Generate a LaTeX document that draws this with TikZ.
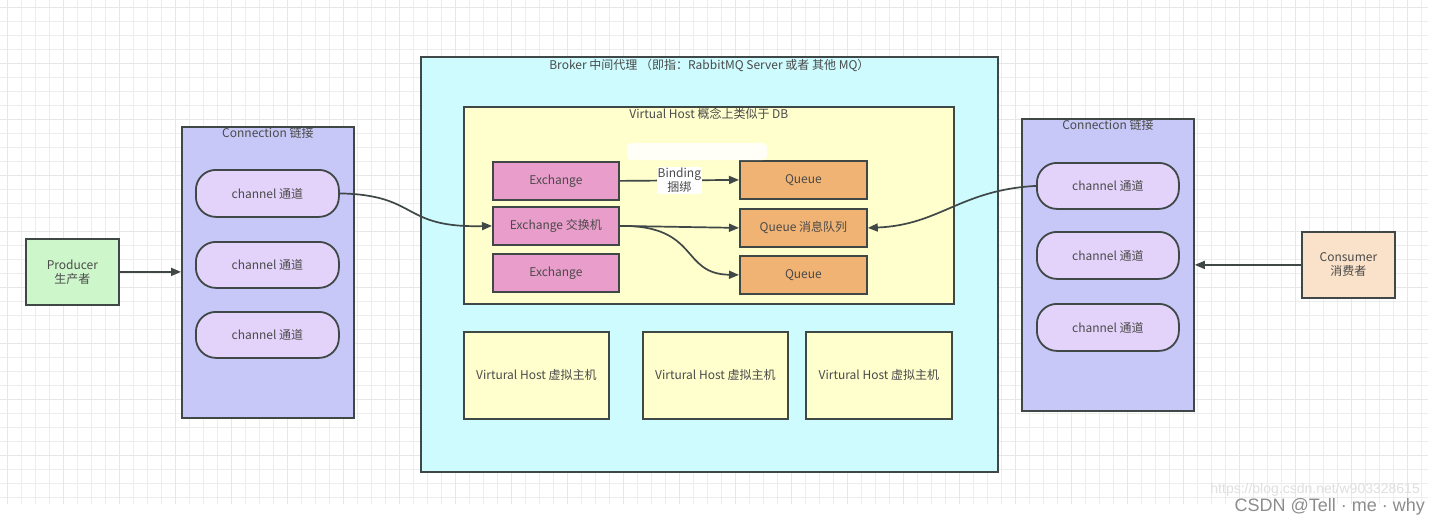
\documentclass[tikz,border=0pt]{standalone}
\usepackage{fontspec}
\setmainfont{Noto Sans CJK SC}
\newfontfamily\wmfont{Liberation Sans}
\usetikzlibrary{arrows.meta}
\definecolor{gridc}{HTML}{EDEDED}
\definecolor{edge}{HTML}{3F4747}
\definecolor{txt}{HTML}{4A4A4A}
\definecolor{prodc}{HTML}{CDF7CB}
\definecolor{connc}{HTML}{C7C8F7}
\definecolor{chanc}{HTML}{E3D3FA}
\definecolor{brokc}{HTML}{CDFBFE}
\definecolor{vhc}{HTML}{FFFECD}
\definecolor{exc}{HTML}{E99DCB}
\definecolor{quc}{HTML}{F0B373}
\definecolor{consc}{HTML}{FAE1C9}
\tikzset{
  box/.style={draw=edge, line width=1.8pt, rectangle, inner sep=0pt, font=\fontsize{12}{14}\selectfont, text=txt, align=center},
  chanbox/.style={box, fill=chanc, rounded corners=20pt},
  title/.style={font=\fontsize{12}{13}\selectfont, text=txt, inner sep=1pt},
  conn/.style={draw=edge, line width=1.7pt, -{Triangle[length=10pt,width=8pt]}},
}
\begin{document}
\begin{tikzpicture}[x=1pt,y=-1pt]
\useasboundingbox (0,0) rectangle (1441,525);
\fill[white] (0,0) rectangle (1441,525);
% grid
\begin{scope}
\clip (0,0) rectangle (1428,504);
\foreach \i in {0,...,102} { \draw[gridc, line width=0.7pt] (7+\i*14,0) -- (7+\i*14,504); }
\foreach \j in {0,...,36} { \draw[gridc, line width=0.7pt] (0,7+\j*14) -- (1441,7+\j*14); }
\foreach \i in {0,...,25} { \draw[gridc!80!gray!60, line width=0.9pt] (7+\i*56,0) -- (7+\i*56,504); }
\foreach \j in {0,...,9} { \draw[gridc!80!gray!60, line width=0.9pt] (0,7+\j*56) -- (1441,7+\j*56); }
\end{scope}

% containers
\node[box, fill=brokc, minimum width=577pt, minimum height=415pt, anchor=north west] (broker) at (420,56) {};
\node[title, anchor=north] (brokert) at (broker.north) [yshift=-2pt] {Broker 中间代理 （即指：RabbitMQ Server 或者 其他 MQ）};
\node[box, fill=vhc, minimum width=490pt, minimum height=197pt, anchor=north west] (vh) at (463,106) {};
\node[title, anchor=north] (vht) at (vh.north) [yshift=-1pt] {Virtual Host 概念上类似于 DB};

\node[box, fill=connc, minimum width=172pt, minimum height=291pt, anchor=north west] (lconn) at (181,126) {};
\node[title, anchor=north] (lconnt) at (lconn.north) [yshift=0pt] {Connection 链接};
\node[box, fill=connc, minimum width=172pt, minimum height=292pt, anchor=north west] (rconn) at (1021,118) {};
\node[title, anchor=north] (rconnt) at (rconn.north) [yshift=0pt] {Connection 链接};

% producer / consumer
\node[box, fill=prodc, minimum width=93pt, minimum height=66pt, anchor=north west] (prod) at (25,238) {Producer\\生产者};
\node[box, fill=consc, minimum width=93pt, minimum height=66pt, anchor=north west] (cons) at (1301,231) {Consumer\\消费者};

% channels
\node[chanbox, minimum width=143pt, minimum height=47pt, anchor=north west] (lc1) at (195,169) {channel 通道};
\node[chanbox, minimum width=143pt, minimum height=46pt, anchor=north west] (lc2) at (195,241) {channel 通道};
\node[chanbox, minimum width=143pt, minimum height=46pt, anchor=north west] (lc3) at (195,311) {channel 通道};
\node[chanbox, minimum width=142pt, minimum height=46pt, anchor=north west] (rc1) at (1036,162) {channel 通道};
\node[chanbox, minimum width=142pt, minimum height=47pt, anchor=north west] (rc2) at (1036,231) {channel 通道};
\node[chanbox, minimum width=142pt, minimum height=47pt, anchor=north west] (rc3) at (1036,303) {channel 通道};

% exchanges
\node[box, fill=exc, minimum width=126pt, minimum height=38pt, anchor=north west] (ex1) at (492,161) {Exchange};
\node[box, fill=exc, minimum width=126pt, minimum height=38pt, anchor=north west] (ex2) at (492,206) {Exchange 交换机};
\node[box, fill=exc, minimum width=126pt, minimum height=38pt, anchor=north west] (ex3) at (492,253) {Exchange};
% queues
\node[box, fill=quc, minimum width=127pt, minimum height=38pt, anchor=north west] (q1) at (739,160) {Queue};
\node[box, fill=quc, minimum width=127pt, minimum height=38pt, anchor=north west] (q2) at (739,208) {Queue 消息队列};
\node[box, fill=quc, minimum width=127pt, minimum height=38pt, anchor=north west] (q3) at (739,255) {Queue};

% blurred patch
\fill[white, opacity=0.85, rounded corners=4pt] (627,143) rectangle (767,160);

% bottom vhosts
\node[box, fill=vhc, minimum width=145pt, minimum height=87pt, anchor=north west] (vh2) at (463,331) {Virtural Host 虚拟主机};
\node[box, fill=vhc, minimum width=145pt, minimum height=87pt, anchor=north west] (vh3) at (642,331) {Virtural Host 虚拟主机};
\node[box, fill=vhc, minimum width=146pt, minimum height=87pt, anchor=north west] (vh4) at (805,331) {Virtural Host 虚拟主机};

% connectors
\draw[conn] (prod.east) -- (lconn.west |- prod.east);
\draw[conn] (cons.west) -- (rconn.east |- cons.west);
\draw[conn] (lc1.east) .. controls (420,195) and (400,228) .. (ex2.west);
\draw[conn] (ex1.east) -- (q1.west) node[midway, fill=white, inner sep=1pt, align=center, font=\fontsize{12}{13}\selectfont, text=txt] (bind) {Binding\\捆绑};
\draw[conn] (ex2.east) -- (q2.west);
\draw[conn] (ex2.east) .. controls (700,225) and (680,274) .. (q3.west);
\draw[conn] (rc1.west) .. controls (960,190) and (940,225) .. (q2.east);

% watermark
\node[anchor=east, inner sep=0pt, text=gray!25, font=\wmfont\fontsize{14}{14}\selectfont] (wm1) at (1420,490) {https://blog.csdn.net/w903328615};
\node[anchor=east, inner sep=0pt, text=gray!90, font=\wmfont\fontsize{18}{19}\selectfont] (wm2) at (1425,507) {CSDN @Tell · me · why};
\end{tikzpicture}
\end{document}
